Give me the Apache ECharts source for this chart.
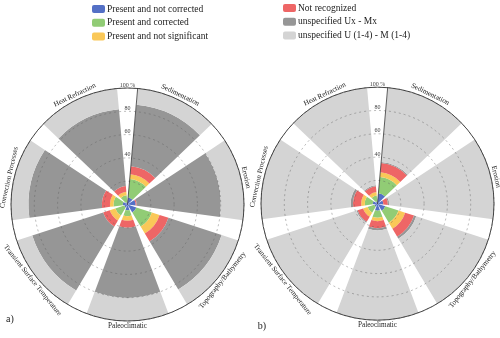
<!DOCTYPE html>
<html>
<head>
<meta charset="utf-8">
<script src="https://cdn.jsdelivr.net/npm/echarts@6/dist/echarts.min.js"></script>
<style>
  html, body { margin: 0; padding: 0; background: #fff; }
  #chart { width: 500px; height: 338px; }
</style>
</head>
<body>
<div id="chart"></div>
<script>
// categories, clockwise from the top
const categories = ['Sedimentation', 'Erosion', 'Topography/Bathymetry', 'Paleoclimatic',
  'Transient Surface Temperature', 'Convection Processes', 'Heat Refraction'];
const seriesNames = ['Present and not corrected', 'Present and corrected', 'Present and not significant',
  'Not recognized', 'unspecified Ux - Mx', 'unspecified U (1-4) - M (1-4)'];
const colors = ['#5470c6', '#91cc75', '#fac858', '#ee6666', '#969696', '#d4d4d4'];
const radiusTicks = [0, 20, 40, 60, 80, 100];

// panel a) (percent)
const aNotCorrected = [6, 7, 8, 5, 3, 4, 2];
const aCorrected = [16, 0, 14, 5, 8, 8, 6];
const aNotSignificant = [4, 0, 7, 4, 5, 3, 3];
const aNotRecognized = [7, 1, 8, 6, 6, 7, 5];
const aUxMx = [53, 72, 48, 60, 64, 63, 66];
const aU14 = [14, 20, 15, 20, 14, 15, 18];

// panel b) (percent)
const bNotCorrected = [9, 5, 7, 6, 3, 4, 2];
const bCorrected = [14, 0, 12, 6, 6, 7, 5];
const bNotSignificant = [4, 0, 6, 3, 4, 3, 3];
const bNotRecognized = [8, 4, 8, 6, 5, 7, 5];
const bUxMx = [1, 1, 2, 2, 1, 2, 1];
const bU14 = [64, 90, 65, 77, 81, 77, 84];

const panels = [
  { tag: 'a)', cx: 127.5, cy: 204.5, tagX: 10, tagY: 319,
    data: [aNotCorrected, aCorrected, aNotSignificant, aNotRecognized, aUxMx, aU14] },
  { tag: 'b)', cx: 377.5, cy: 203.7, tagX: 262, tagY: 326,
    data: [bNotCorrected, bCorrected, bNotSignificant, bNotRecognized, bUxMx, bU14] }
];
const R = 116.5;
const font = 'Liberation Serif';

const chart = echarts.init(document.getElementById('chart'), null, { renderer: 'canvas' });

const polar = [], angleAxis = [], radiusAxis = [], series = [], graphic = [];

panels.forEach((p, k) => {
  const pi = k * 2;
  // bars
  polar.push({ center: [p.cx, p.cy], radius: R });
  angleAxis.push({
    polarIndex: pi, type: 'category', data: categories, startAngle: 90, z: 6,
    axisLine: { lineStyle: { color: '#333', width: 0.9 } },
    axisTick: { show: false }, axisLabel: { show: false }, splitLine: { show: false }
  });
  radiusAxis.push({
    polarIndex: pi, min: 0, max: 100, interval: 20, z: 5,
    axisLine: { show: false }, axisTick: { show: false },
    splitLine: { lineStyle: { type: [2, 3], color: 'rgba(95,95,95,0.55)', width: 0.8 } },
    axisLabel: {
      margin: 0, align: 'center', verticalAlign: 'bottom',
      fontSize: 6, fontFamily: font, color: '#444',
      formatter: v => v === 100 ? '100 %' : (v <= 20 ? '' : String(v))
    }
  });
  // thin radial axis line on the edge of the top gap
  polar.push({ center: [p.cx, p.cy], radius: R });
  angleAxis.push({ polarIndex: pi + 1, type: 'value', min: 0, max: 360, startAngle: 85, show: false });
  radiusAxis.push({
    polarIndex: pi + 1, min: 0, max: 100, z: 5,
    axisLine: { lineStyle: { color: '#333', width: 0.8 } },
    axisTick: { show: false }, axisLabel: { show: false }, splitLine: { show: false }
  });

  seriesNames.forEach((name, j) => {
    series.push({
      name: name, type: 'bar', coordinateSystem: 'polar', polarIndex: pi,
      stack: 'panel' + k, data: p.data[j], barCategoryGap: '20%',
      itemStyle: { color: colors[j] }
    });
  });

  // category labels, tangential, just outside the circle
  categories.forEach((c, i) => {
    const th = (i + 0.5) * 360 / categories.length;
    const rad = th * Math.PI / 180;
    const rr = R + 5;
    const rot = (th > 90 && th < 270) ? (180 - th) : -th;
    graphic.push({
      type: 'text', x: p.cx + rr * Math.sin(rad), y: p.cy - rr * Math.cos(rad),
      rotation: rot * Math.PI / 180, z: 10,
      style: { text: c, x: 0, y: 0, align: 'center', verticalAlign: 'middle',
        fontSize: 7.2, fontFamily: font, fill: '#222' }
    });
  });
  graphic.push({
    type: 'text', x: p.tagX, y: p.tagY, z: 10,
    style: { text: p.tag, align: 'center', verticalAlign: 'middle', fontSize: 10, fontFamily: font, fill: '#222' }
  });
});

const legendBase = {
  orient: 'vertical', itemWidth: 13, itemHeight: 8, itemGap: 1.7, icon: 'roundRect', padding: 0,
  textStyle: { fontSize: 9.5, fontFamily: font, color: '#222', lineHeight: 12, padding: [0, 0, 0, -3] },
  selectedMode: false
};

chart.setOption({
  animation: false,
  backgroundColor: '#fff',
  color: colors,
  legend: [
    Object.assign({ left: 92, top: 3, data: seriesNames.slice(0, 3) }, legendBase),
    Object.assign({ left: 283, top: 2, data: seriesNames.slice(3) }, legendBase)
  ],
  polar: polar,
  angleAxis: angleAxis,
  radiusAxis: radiusAxis,
  series: series,
  graphic: graphic
});
</script>
</body>
</html>
